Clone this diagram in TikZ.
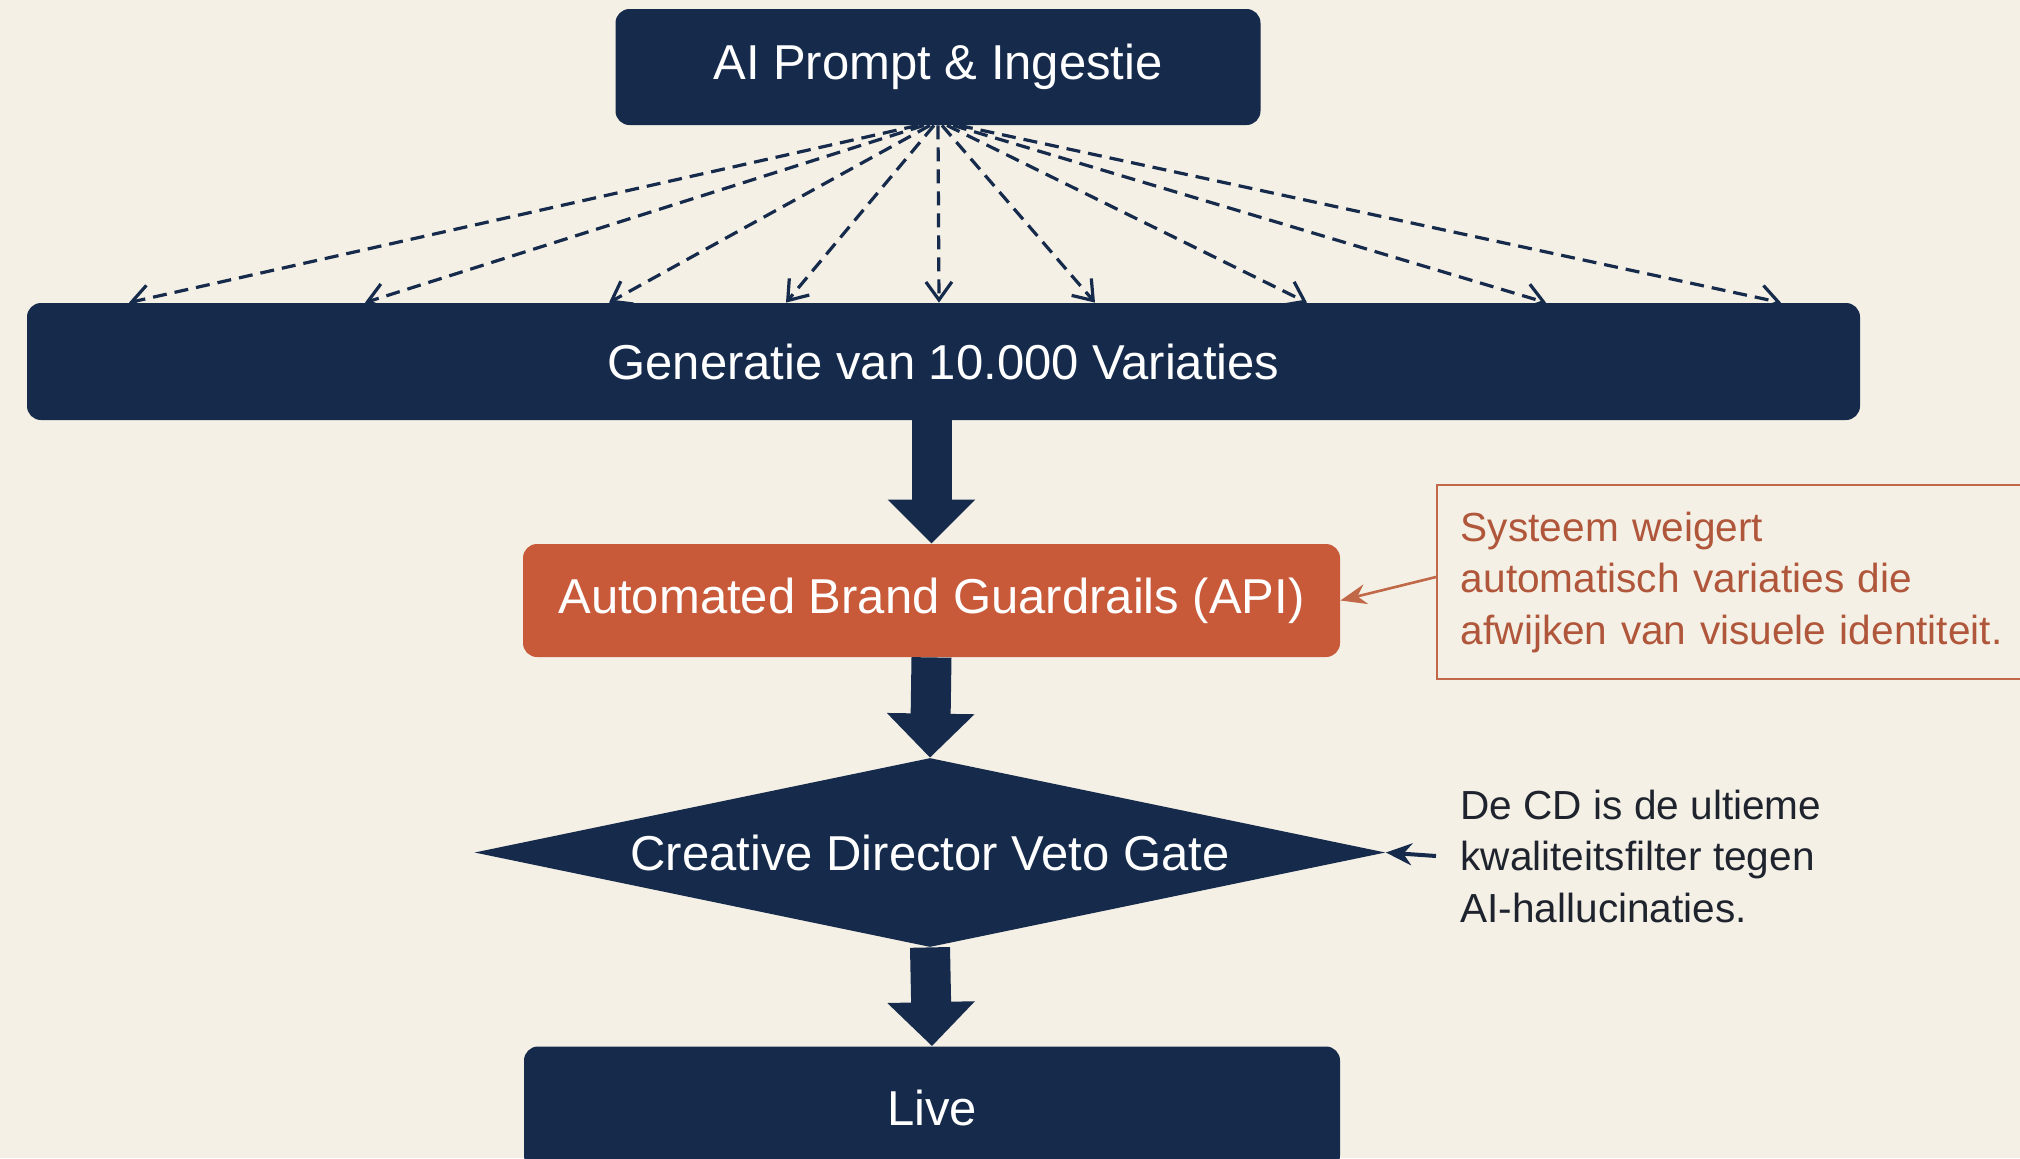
\documentclass[tikz,border=0pt]{standalone}
\usepackage{fontspec}
\setmainfont{Liberation Sans}
\usetikzlibrary{arrows.meta,shapes.geometric,calc}
\definecolor{navy}{HTML}{162B4B}
\definecolor{bgc}{HTML}{F4F0E6}
\definecolor{guardc}{HTML}{C85A3A}
\definecolor{notec}{HTML}{B0563A}
\definecolor{noteline}{HTML}{C06848}
\definecolor{inkc}{HTML}{1E232D}
\begin{document}
\begin{tikzpicture}[x=0.5pt,y=-0.5pt,
  mainbox/.style={fill=navy, text=white, rounded corners=7pt, font=\fontsize{24.5}{29}\selectfont, inner sep=0pt},
  bigarrow/.style={draw=navy, line width=20pt, -{Triangle[length=22pt,width=42.5pt]}},
  fanarrow/.style={draw=navy, line width=1.6pt, dash pattern=on 7pt off 4pt, -{Straight Barb[length=9pt,width=13pt,line width=1.6pt]}},
  notetext/.style={font=\fontsize{20.3}{25.75}\selectfont, align=left},
]
\useasboundingbox (0,0) rectangle (2020,1158);
\fill[bgc] (0,0) rectangle (2020,1158);

\node[mainbox, minimum width=322.5pt, minimum height=58pt] (top) at (938,67) {AI Prompt \& Ingestie};
\node[mainbox, minimum width=916.5pt, minimum height=58.5pt] (gen) at (943.5,361.5) {Generatie van 10.000 Variaties};
\node[mainbox, fill=guardc, minimum width=408.5pt, minimum height=56.5pt] (guard) at (931.5,600.5) {Automated Brand Guardrails (API)};
\node[diamond, fill=navy, text=white, font=\fontsize{24.5}{29}\selectfont, inner sep=0pt, aspect=4.8, minimum width=455.5pt, minimum height=94.5pt] (gate) at (930,852.5) {Creative Director Veto Gate};
\node[mainbox, minimum width=408pt, minimum height=61.5pt] (live) at (932,1108) {Live};

\node[notetext, text=notec, draw=noteline, line width=0.9pt, fill=bgc, anchor=west, minimum height=97pt, text width=300pt, inner xsep=12pt] (note1) at (1436,582) {Systeem weigert\\automatisch variaties die\\afwijken van visuele identiteit.};
\node[notetext, text=inkc, anchor=west, inner xsep=12pt, inner ysep=0pt] (note2) at (1436,856) {De CD is de ultieme\\kwaliteitsfilter tegen\\AI-hallucinaties.};

\foreach \ex/\dx in {129/-10,365/-7,609/-4,786/-2,939/0,1095/2,1307/4.5,1546/7.5,1781/10.5}
  \draw[fanarrow] ([xshift=\dx pt]top.south) -- (gen.north -| \ex,0);

\draw[bigarrow] (guard.north |- gen.south) -- (guard.north);
\draw[bigarrow] (guard.south) -- (gate.north);
\draw[bigarrow] (gate.south) -- (live.north);

\draw[noteline, line width=1.3pt, -{Stealth[length=13pt,width=10pt]}] ([yshift=2.5pt]note1.west) -- (guard.east);
\draw[navy, line width=2pt, -{Stealth[length=13pt,width=11pt]}] (note2.west) -- (gate.east);
\end{tikzpicture}
\end{document}
